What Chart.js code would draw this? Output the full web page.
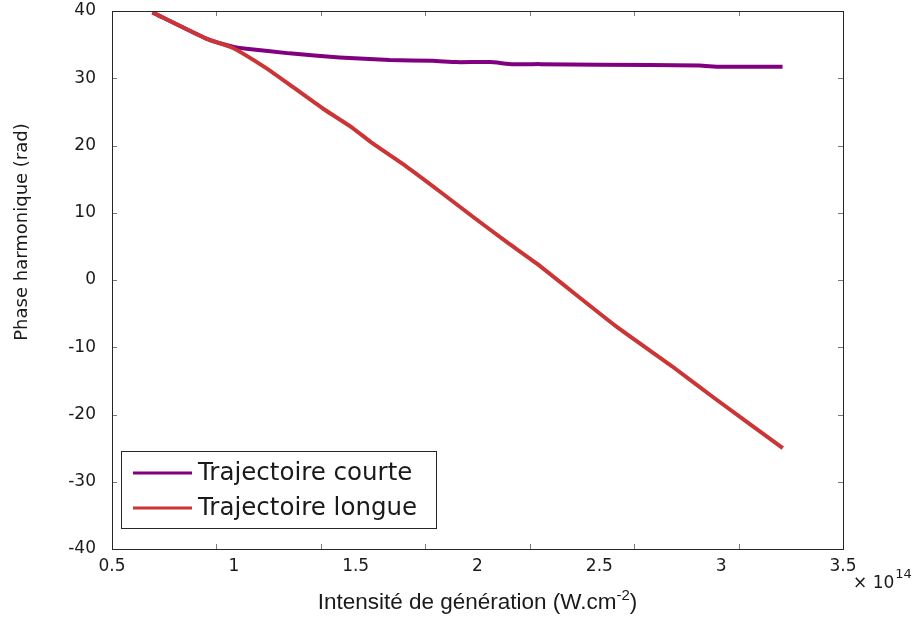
<!DOCTYPE html>
<html>
<head>
<meta charset="utf-8">
<script src="https://cdn.jsdelivr.net/npm/chart.js@4"></script>
<style>
  html, body { margin: 0; padding: 0; background: #fff; }
  #c { display: block; }
</style>
</head>
<body>
<canvas id="c" width="919" height="617"></canvas>
<script>
// intensité (x 1e14 W/cm2) / phase (rad)
const shortX = [0.666, 0.887, 0.996, 1.051, 1.228, 1.434, 1.639, 1.815, 1.913, 2.051, 2.145, 2.256, 2.5, 2.911, 2.993, 3.252];
const shortY = [39.8, 35.9, 34.7, 34.4, 33.7, 33.1, 32.7, 32.6, 32.4, 32.4, 32.1, 32.1, 32.0, 31.9, 31.7, 31.7];
const longX  = [0.666, 0.887, 0.996, 1.133, 1.242, 1.365, 1.488, 1.570, 1.707, 1.844, 1.981, 2.118, 2.241, 2.569, 2.801, 2.966, 3.253];
const longY  = [39.8, 35.9, 34.5, 31.5, 28.7, 25.5, 22.6, 20.3, 16.9, 13.2, 9.4, 5.7, 2.5, -6.9, -12.9, -17.4, -25.0];
const seriesNames = ["Trajectoire courte", "Trajectoire longue"];
const xTickLabels = ["0.5", "1", "1.5", "2", "2.5", "3", "3.5"];
const yTickLabels = ["-40", "-30", "-20", "-10", "0", "10", "20", "30", "40"];

const COL_SHORT = "#800080";
const COL_LONG  = "#cc3535";
const INK = "#1a1a1a";

const pts = (xs, ys) => xs.map((x, i) => ({ x, y: ys[i] }));

// cadre, graduations internes, légende, titres
const decor = {
  id: "decor",
  afterDraw(chart) {
    const { ctx, chartArea: a, scales } = chart;
    ctx.save();

    // graduations (grises, vers l'intérieur)
    ctx.strokeStyle = "#7a7a7a";
    ctx.lineWidth = 1;
    const tk = 5;
    const xt = scales.xt;
    for (let v = 1; v < 7; v++) {
      const px = Math.round(xt.getPixelForValue(v)) + 0.5;
      ctx.beginPath();
      ctx.moveTo(px, a.bottom); ctx.lineTo(px, a.bottom - tk);
      ctx.moveTo(px, a.top);    ctx.lineTo(px, a.top + tk);
      ctx.stroke();
    }
    scales.y.ticks.forEach(t => {
      const py = Math.round(scales.y.getPixelForValue(t.value)) + 0.5;
      ctx.beginPath();
      ctx.moveTo(a.left, py);  ctx.lineTo(a.left + tk, py);
      ctx.moveTo(a.right, py); ctx.lineTo(a.right - tk, py);
      ctx.stroke();
    });

    // cadre
    ctx.strokeStyle = "#262626";
    ctx.strokeRect(Math.round(a.left) + 0.5, Math.round(a.top) + 0.5,
                   Math.round(a.right - a.left), Math.round(a.bottom - a.top));

    // légende
    const lx = a.left + 9, ly = a.top + 440, lw = 315, lh = 77;
    ctx.fillStyle = "#fff";
    ctx.fillRect(lx, ly, lw, lh);
    ctx.strokeStyle = "#262626";
    ctx.strokeRect(Math.round(lx) + 0.5, Math.round(ly) + 0.5, lw, lh);
    ctx.font = "24.5px 'DejaVu Sans'";
    ctx.textBaseline = "middle";
    ctx.textAlign = "left";
    chart.data.datasets.forEach((ds, i) => {
      const cy = ly + 22 + i * 35;
      ctx.strokeStyle = ds.borderColor;
      ctx.lineWidth = 3;
      ctx.beginPath();
      ctx.moveTo(lx + 12, cy); ctx.lineTo(lx + 71, cy);
      ctx.stroke();
      ctx.fillStyle = INK;
      ctx.fillText(ds.label, lx + 77, cy + 1);
    });

    // facteur d'échelle x
    ctx.fillStyle = INK;
    ctx.font = "17px 'DejaVu Sans'";
    ctx.textBaseline = "alphabetic";
    const mult = "\u00d7 10";
    ctx.fillText(mult, 853, 588);
    const mw = ctx.measureText(mult).width;
    ctx.font = "13px 'DejaVu Sans'";
    ctx.fillText("14", 853 + mw + 1, 578);

    // titre x avec exposant
    const big = "22.5px 'Liberation Sans'", small = "15px 'Liberation Sans'";
    const t1 = "Intensité de génération (W.cm", t2 = "-2", t3 = ")";
    ctx.font = big;
    const w1 = ctx.measureText(t1).width, w3 = ctx.measureText(t3).width;
    ctx.font = small;
    const w2 = ctx.measureText(t2).width;
    const x0 = (a.left + a.right) / 2 - (w1 + w2 + w3) / 2;
    const by = 609;
    ctx.font = big;
    ctx.fillText(t1, x0, by);
    ctx.font = small;
    ctx.fillText(t2, x0 + w1, by - 9);
    ctx.font = big;
    ctx.fillText(t3, x0 + w1 + w2, by);

    // titre y
    ctx.translate(22, 232);
    ctx.rotate(-Math.PI / 2);
    ctx.font = "18px 'DejaVu Sans'";
    ctx.textAlign = "center";
    ctx.textBaseline = "middle";
    ctx.fillText("Phase harmonique (rad)", 0, 0);

    ctx.restore();
  }
};

new Chart(document.getElementById("c"), {
  type: "line",
  data: {
    datasets: [
      { label: seriesNames[0], data: pts(shortX, shortY), borderColor: COL_SHORT,
        borderWidth: 4, pointRadius: 0, tension: 0.15, order: 2, xAxisID: "x", yAxisID: "y" },
      { label: seriesNames[1], data: pts(longX, longY), borderColor: COL_LONG,
        borderWidth: 4, pointRadius: 0, tension: 0.15, order: 1, xAxisID: "x", yAxisID: "y" },
    ]
  },
  options: {
    responsive: false, animation: false,
    layout: { padding: { top: 11, right: 76, left: 0, bottom: 0 } },
    plugins: { legend: { display: false }, tooltip: { enabled: false } },
    scales: {
      x: {
        type: "linear", min: 0.5, max: 3.5,
        grid: { display: false, drawTicks: false }, border: { display: false },
        ticks: {
          stepSize: 0.5, padding: 7, color: INK,
          font: { family: "DejaVu Sans", size: 17 },
          maxRotation: 0,
          callback: (v, i) => xTickLabels[i] ?? ""
        },
        afterFit(s) { s.height = 68; s.paddingLeft = 0; s.paddingRight = 0; }
      },
      xt: { type: "linear", min: 0, max: 7, display: false },
      y: {
        type: "linear", min: -40, max: 40,
        grid: { display: false, drawTicks: false }, border: { display: false },
        ticks: {
          stepSize: 10, padding: 16, color: INK,
          font: { family: "DejaVu Sans", size: 17 },
          callback: (v, i) => yTickLabels[i] ?? ""
        },
        afterFit(s) { s.width = 112; s.paddingTop = 0; s.paddingBottom = 0; }
      }
    }
  },
  plugins: [decor]
});
</script>
</body>
</html>
